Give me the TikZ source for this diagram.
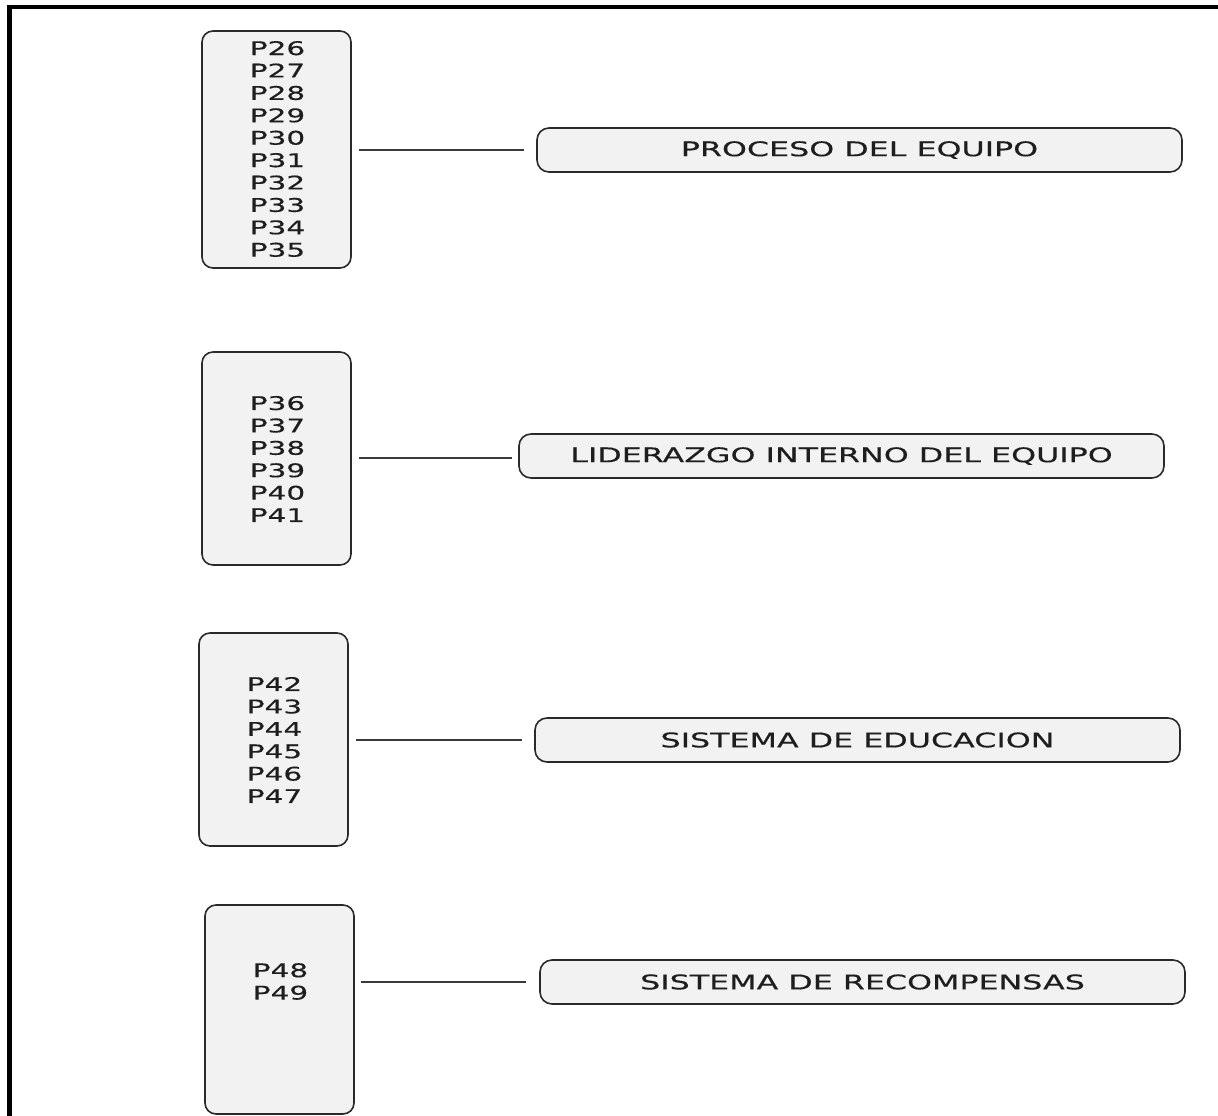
\documentclass[tikz,border=0pt]{standalone}
\usepackage{fontspec}
\newfontfamily\widefont[FakeStretch=1.57, FakeBold=0.4]{DejaVu Sans}
\definecolor{boxfill}{HTML}{F2F2F2}
\definecolor{boxline}{HTML}{2A2A2A}
\definecolor{inktext}{HTML}{1E1E1E}
\definecolor{linkline}{HTML}{3A3A3A}
\tikzset{
  itembox/.style={draw=boxline, line width=1.6pt, fill=boxfill, rounded corners=11pt,
    minimum width=149pt, inner sep=0pt},
  itemtext/.style={text=inktext, align=center, inner sep=0pt,
    font=\widefont\fontsize{18.8}{22.4}\selectfont},
  labelbox/.style={draw=boxline, line width=1.6pt, fill=boxfill, rounded corners=12pt,
    minimum width=645pt, minimum height=44pt, inner sep=0pt, text=inktext,
    font=\widefont\fontsize{20.2}{24}\selectfont},
  link/.style={draw=linkline, line width=1.3pt},
  frameline/.style={line width=4.2pt, black, line join=miter}
}
\begin{document}
\begin{tikzpicture}[x=1pt, y=-1pt]
  \useasboundingbox (0,0) rectangle (1218,1116);
  % open frame: top and left edges only
  \draw[frameline] (1218,7) -- (9.5,7) -- (9.5,1116);

  % item boxes
  \node[itembox, minimum height=237pt] (b1) at (276.5,149.5) {};
  \node[itembox, minimum height=213pt] (b2) at (276.5,458.5) {};
  \node[itembox, minimum height=213pt] (b3) at (273.5,739.5) {};
  \node[itembox, minimum height=209pt] (b4) at (279.5,1009.5) {};

  \node[itemtext] (t1) at (277.5,149) {P26\\P27\\P28\\P29\\P30\\P31\\P32\\P33\\P34\\P35};
  \node[itemtext] (t2) at (277.5,459) {P36\\P37\\P38\\P39\\P40\\P41};
  \node[itemtext] (t3) at (274.5,740) {P42\\P43\\P44\\P45\\P46\\P47};
  \node[itemtext] (t4) at (280.5,981.5) {P48\\P49};

  % category labels
  \node[labelbox] (l1) at (859.5,150) {PROCESO DEL EQUIPO};
  \node[labelbox] (l2) at (841.5,456) {LIDERAZGO INTERNO DEL EQUIPO};
  \node[labelbox] (l3) at (857.5,740) {SISTEMA DE EDUCACION};
  \node[labelbox] (l4) at (862.5,982) {SISTEMA DE RECOMPENSAS};

  % connectors
  \draw[link, shorten <=7pt, shorten >=12pt] (b1.east |- l1.west) -- (l1.west);
  \draw[link, shorten <=7pt, shorten >=6pt]  (b2.east |- 0,458) -- (l2.west |- 0,458);
  \draw[link, shorten <=7pt, shorten >=12pt] (b3.east |- l3.west) -- (l3.west);
  \draw[link, shorten <=6pt, shorten >=13pt] (b4.east |- l4.west) -- (l4.west);
\end{tikzpicture}
\end{document}
